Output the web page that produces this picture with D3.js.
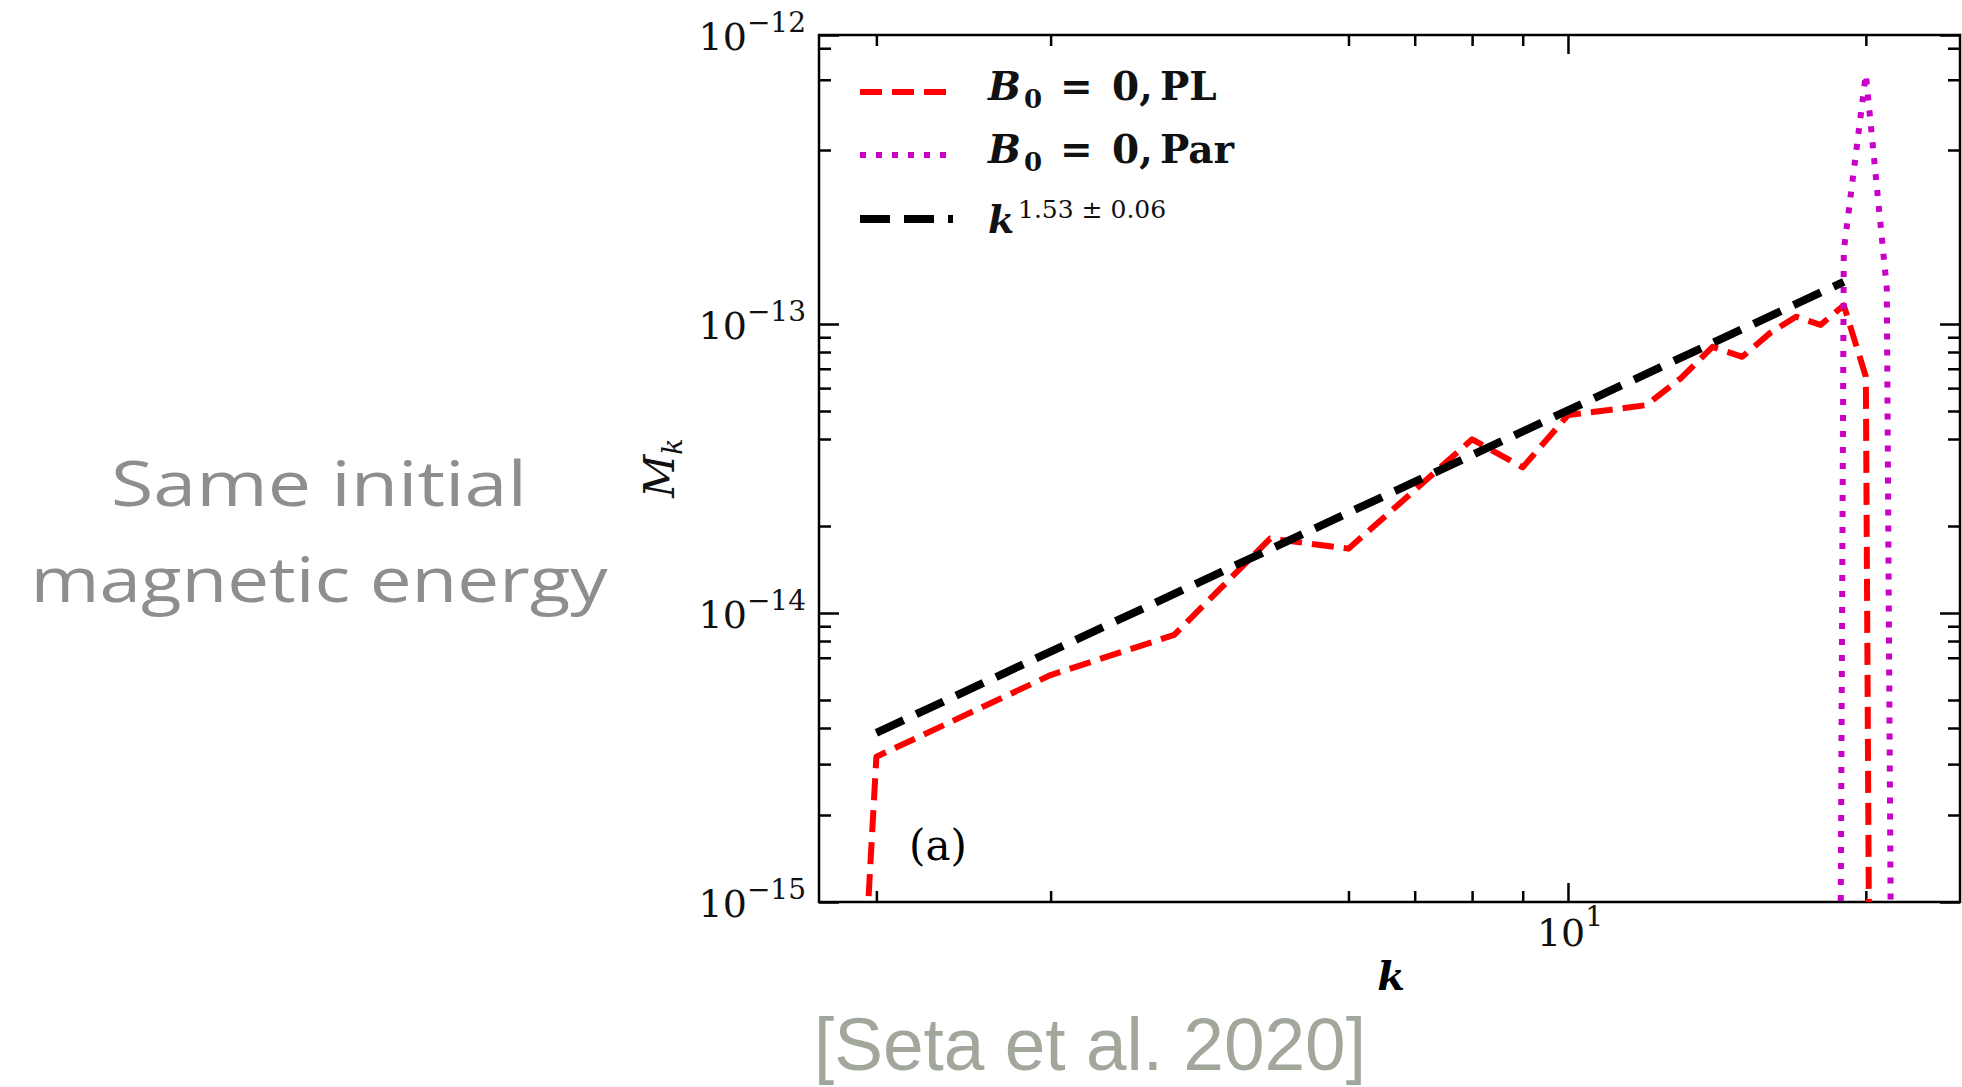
<!DOCTYPE html>
<html><head><meta charset="utf-8">
<script src="https://cdn.jsdelivr.net/npm/d3@7"></script>
<style>html,body{margin:0;padding:0;background:#fff;overflow:hidden}svg{display:block}</style>
</head><body>
<svg id="chart" width="1962" height="1087"></svg>
<script>
// ---- data ----
const kPL  = [1, 2, 3, 4, 5, 6, 7, 8, 9, 10, 11, 12, 13, 14, 15, 16, 17, 18, 19, 20, 21];
const mPL  = [1e-33, 3.18e-15, 6.1e-15, 8.4e-15, 1.81e-14, 1.67e-14, 2.66e-14, 3.99e-14, 3.19e-14,
              4.84e-14, 5.04e-14, 5.24e-14, 6.49e-14, 8.34e-14, 7.7e-14, 9.3e-14, 1.06e-13,
              9.93e-14, 1.16e-13, 6.58e-14, 1e-26];
const kPar = [18, 19, 20, 21, 22];
const mPar = [1e-30, 1.8e-13, 7.3e-13, 1.33e-13, 1e-24];
const kFit = [2, 19];
const mFit = [3.85e-15, 1.40e-13];

const xMajor = [10];
const xMinor = [2, 3, 6, 7, 8, 9, 20];
const yMajor = [1e-15, 1e-14, 1e-13, 1e-12];
const yMajorExp = ["\u221215", "\u221214", "\u221213", "\u221212"];
const yMinor = [2e-15, 3e-15, 4e-15, 5e-15, 7e-15, 8e-15, 9e-15,
                2e-14, 4e-14, 5e-14, 6e-14, 7e-14, 8e-14, 9e-14,
                4e-13, 7e-13, 9e-13];
const xDomain = [1.75, 24.9];
const yDomain = [1e-15, 1e-12];

// ---- layout ----
const L = 819, R = 1960, T = 35, B = 902;
const svg = d3.select("#chart");
const x = d3.scaleLog().domain(xDomain).range([L, R]);
const y = d3.scaleLog().domain(yDomain).range([B, T]);
const serif = "'DejaVu Serif', serif";

svg.append("defs").append("clipPath").attr("id", "clip")
  .append("rect").attr("x", L).attr("y", T).attr("width", R - L).attr("height", B - T);

// ---- ticks (inward) ----
function tickGroup(axisFn, scale, vals, size, tr) {
  const g = svg.append("g").attr("transform", tr)
    .call(axisFn(scale).tickValues(vals).tickSize(size).tickFormat(""));
  g.select(".domain").remove();
  g.selectAll(".tick line").attr("stroke", "#000").attr("stroke-width", 2.5);
  return g;
}
tickGroup(d3.axisLeft, y, yMajor, -20, `translate(${L},0)`);
tickGroup(d3.axisLeft, y, yMinor, -12, `translate(${L},0)`);
tickGroup(d3.axisRight, y, yMajor, -20, `translate(${R},0)`);
tickGroup(d3.axisRight, y, yMinor, -12, `translate(${R},0)`);
tickGroup(d3.axisBottom, x, xMajor, -19, `translate(0,${B})`);
tickGroup(d3.axisBottom, x, xMinor, -11, `translate(0,${B})`);
tickGroup(d3.axisTop, x, xMajor, -19, `translate(0,${T})`);
tickGroup(d3.axisTop, x, xMinor, -11, `translate(0,${T})`);

svg.append("rect").attr("x", L).attr("y", T).attr("width", R - L).attr("height", B - T)
  .attr("fill", "none").attr("stroke", "#000").attr("stroke-width", 2.5);

// ---- tick labels ----
yMajor.forEach((v, i) => {
  const t = svg.append("text").attr("x", 806).attr("y", y(v) + 15)
    .attr("text-anchor", "end").attr("font-family", serif).attr("font-size", 38).attr("fill", "#111");
  t.append("tspan").text("10");
  t.append("tspan").attr("dy", -18).attr("font-size", 28).text(yMajorExp[i]);
});
xMajor.forEach(v => {
  const t = svg.append("text").attr("x", x(v) + 2).attr("y", 946)
    .attr("text-anchor", "middle").attr("font-family", serif).attr("font-size", 38).attr("fill", "#111");
  t.append("tspan").text("10");
  t.append("tspan").attr("dy", -20).attr("font-size", 28).text("1");
});

// axis labels
svg.append("text").attr("x", 1391).attr("y", 990).attr("text-anchor", "middle")
  .attr("font-family", serif).attr("font-style", "italic").attr("font-weight", "bold")
  .attr("font-size", 40).text("k");
const ml = svg.append("text").attr("transform", "translate(674,468) rotate(-90)")
  .attr("text-anchor", "middle").attr("font-family", serif).attr("font-style", "italic")
  .attr("font-size", 42).attr("fill", "#111");
ml.append("tspan").text("M");
ml.append("tspan").attr("dy", 8).attr("font-size", 27).text("k");

svg.append("text").attr("x", 938).attr("y", 860).attr("text-anchor", "middle")
  .attr("font-family", serif).attr("font-size", 42).text("(a)");

// ---- lines ----
const line = d3.line().x(d => x(d[0])).y(d => y(d[1]));
const plot = svg.append("g").attr("clip-path", "url(#clip)");
const series = [
  {k: kPL, m: mPL, color: "#ff0000", w: 6, dash: "22,10"},
  {k: kPar, m: mPar, color: "#c800c8", w: 6, dash: "6,10"},
  {k: kFit, m: mFit, color: "#000000", w: 8, dash: "30,14"}
];
series.forEach(s => {
  plot.append("path").datum(s.k.map((k, i) => [k, s.m[i]]))
    .attr("d", line).attr("fill", "none").attr("stroke", s.color)
    .attr("stroke-width", s.w).attr("stroke-dasharray", s.dash)
    .attr("stroke-linejoin", "round").attr("stroke-linecap", "butt");
});

// ---- legend ----
const legY = [92, 155, 219];
series.forEach((s, i) => {
  svg.append("line").attr("x1", 860).attr("x2", 953).attr("y1", legY[i]).attr("y2", legY[i])
    .attr("stroke", s.color).attr("stroke-width", s.w).attr("stroke-dasharray", s.dash);
});
const legendTails = ["PL", "Par"];
legendTails.forEach((tail, i) => {
  const by = legY[i] + 8;
  const t = svg.append("text").attr("y", by).attr("font-family", serif)
    .attr("font-size", 39).attr("font-weight", "bold").attr("fill", "#111");
  t.append("tspan").attr("x", 988).attr("font-style", "italic").text("B");
  t.append("tspan").attr("x", 1024).attr("dy", 8).attr("font-size", 26).text("0");
  t.append("tspan").attr("x", 1060).attr("dy", -8).text("=");
  t.append("tspan").attr("x", 1112).text("0,");
  t.append("tspan").attr("x", 1160).text(tail);
});
const kt = svg.append("text").attr("y", 233).attr("font-family", serif)
  .attr("font-size", 38).attr("font-weight", "bold").attr("fill", "#111");
kt.append("tspan").attr("x", 988).attr("font-style", "italic").text("k");
kt.append("tspan").attr("x", 1018).attr("dy", -15).attr("font-size", 25)
  .attr("font-weight", "normal").text("1.53 \u00b1 0.06");

// ---- annotations ----
const hand = svg.append("g").attr("font-family", "'Comic Sans MS', 'Open Sans', sans-serif")
  .attr("fill", "#8e8e8e").attr("text-anchor", "middle").attr("font-size", 62);
hand.append("text").attr("x", 319).attr("y", 506).attr("textLength", 416)
  .attr("lengthAdjust", "spacingAndGlyphs").text("Same initial");
hand.append("text").attr("x", 319).attr("y", 602).attr("textLength", 577)
  .attr("lengthAdjust", "spacingAndGlyphs").text("magnetic energy");

svg.append("text").attr("x", 1090).attr("y", 1070).attr("text-anchor", "middle")
  .attr("font-family", "'Liberation Sans', Arial, sans-serif").attr("font-size", 74)
  .attr("fill", "#a2a79c").attr("textLength", 552).attr("lengthAdjust", "spacingAndGlyphs")
  .text("[Seta et al. 2020]");
</script>
</body></html>
